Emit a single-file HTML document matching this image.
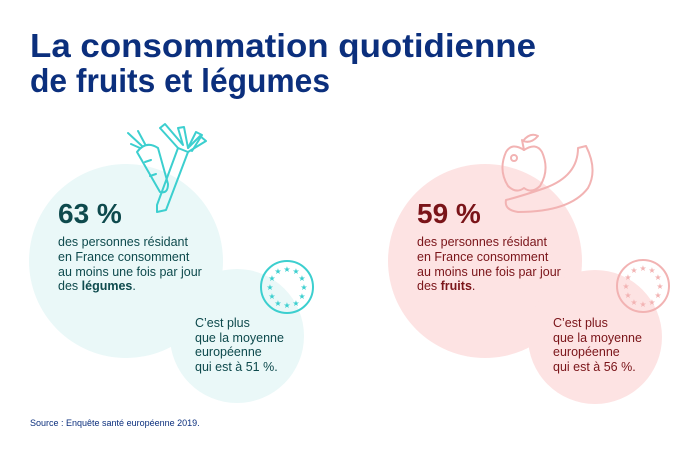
<!DOCTYPE html>
<html><head><meta charset="utf-8"><style>
html,body{margin:0;padding:0;background:#fff;}
svg{display:block;font-family:"Liberation Sans",sans-serif;}
</style></head><body>
<svg width="700" height="468" viewBox="0 0 700 468" xmlns="http://www.w3.org/2000/svg">
<rect width="700" height="468" fill="#fff"/>
<text x="30" y="57" font-size="33" font-weight="bold" fill="#0b2f7d" textLength="506" lengthAdjust="spacingAndGlyphs">La consommation quotidienne</text>
<text x="30" y="92" font-size="33" font-weight="bold" fill="#0b2f7d" textLength="300" lengthAdjust="spacingAndGlyphs">de fruits et légumes</text>

<!-- left -->
<circle cx="126" cy="261" r="97" fill="#eaf8f8"/>
<circle cx="237" cy="336" r="67" fill="#eaf8f8"/>
<g fill="none" stroke="#3ccfcf" stroke-width="2" stroke-linejoin="round" stroke-linecap="round">
 <path d="M142 146 L128 133 M145 144 L138 131 M140 148 L131 144"/>
 <path d="M137 152 Q146 140 158 148 L168 184 Q168 194 160 192 Z"/>
 <path d="M145 162 L151 160 M150 176 L156 174"/>
 <path d="M157 205 L178 148 L188 152 L166 210 L157 212 Z"/>
 <path d="M178 148 L160 128 L165 124 L183 145 L178 128 L184 127 L188 148 L200 136 L206 141 L188 152"/>
 <path d="M188 148 L196 132 L202 135 L192 151"/>
 <circle cx="287" cy="287" r="26"/>
</g>
<g fill="#3ccfcf" font-size="8" text-anchor="middle">
 <text x="287" y="272">★</text><text x="296" y="274">★</text><text x="302" y="281">★</text><text x="304" y="290">★</text><text x="302" y="299">★</text><text x="296" y="306">★</text><text x="287" y="308">★</text><text x="278" y="306">★</text><text x="272" y="299">★</text><text x="270" y="290">★</text><text x="272" y="281">★</text><text x="278" y="274">★</text>
</g>
<g fill="#0e4a4d">
<text x="58" y="223" font-size="28" font-weight="bold">63 %</text>
<g font-size="12.5">
<text x="58" y="246">des personnes résidant</text>
<text x="58" y="261">en France consomment</text>
<text x="58" y="276">au moins une fois par jour</text>
<text x="58" y="290">des <tspan font-weight="bold">légumes</tspan>.</text>
<text x="195" y="327">C’est plus</text>
<text x="195" y="342">que la moyenne</text>
<text x="195" y="356">européenne</text>
<text x="195" y="371">qui est à 51 %.</text>
</g></g>

<!-- right -->
<circle cx="485" cy="261" r="97" fill="#fde3e3"/>
<circle cx="595" cy="337" r="67" fill="#fde3e3"/>
<g fill="none" stroke="#f2b3b3" stroke-width="2" stroke-linejoin="round" stroke-linecap="round">
 <path d="M524 150 Q512 142 506 152 Q498 170 508 186 Q516 194 524 188 Q532 194 540 186 Q550 170 542 152 Q536 142 524 150 Z"/>
 <path d="M524 150 L522 140 M523 141 Q530 132 538 136 Q531 144 523 141"/>
 <circle cx="514" cy="158" r="3"/>
 <path d="M578 148 L586 146 Q598 170 588 188 Q570 212 518 212 Q504 210 506 200 Q522 196 545 188 Q578 176 578 148 Z"/>
 <circle cx="643" cy="286" r="26"/>
</g>
<g fill="#f2b3b3" font-size="8" text-anchor="middle">
 <text x="643" y="271">★</text><text x="652" y="273">★</text><text x="658" y="280">★</text><text x="660" y="289">★</text><text x="658" y="298">★</text><text x="652" y="305">★</text><text x="643" y="307">★</text><text x="634" y="305">★</text><text x="628" y="298">★</text><text x="626" y="289">★</text><text x="628" y="280">★</text><text x="634" y="273">★</text>
</g>
<g fill="#7a1419">
<text x="417" y="223" font-size="28" font-weight="bold">59 %</text>
<g font-size="12.5">
<text x="417" y="246">des personnes résidant</text>
<text x="417" y="261">en France consomment</text>
<text x="417" y="276">au moins une fois par jour</text>
<text x="417" y="290">des <tspan font-weight="bold">fruits</tspan>.</text>
<text x="553" y="327">C’est plus</text>
<text x="553" y="342">que la moyenne</text>
<text x="553" y="356">européenne</text>
<text x="553" y="371">qui est à 56 %.</text>
</g></g>

<text x="30" y="426" font-size="9" fill="#0b2f7d">Source : Enquête santé européenne 2019.</text>
</svg>
</body></html>
